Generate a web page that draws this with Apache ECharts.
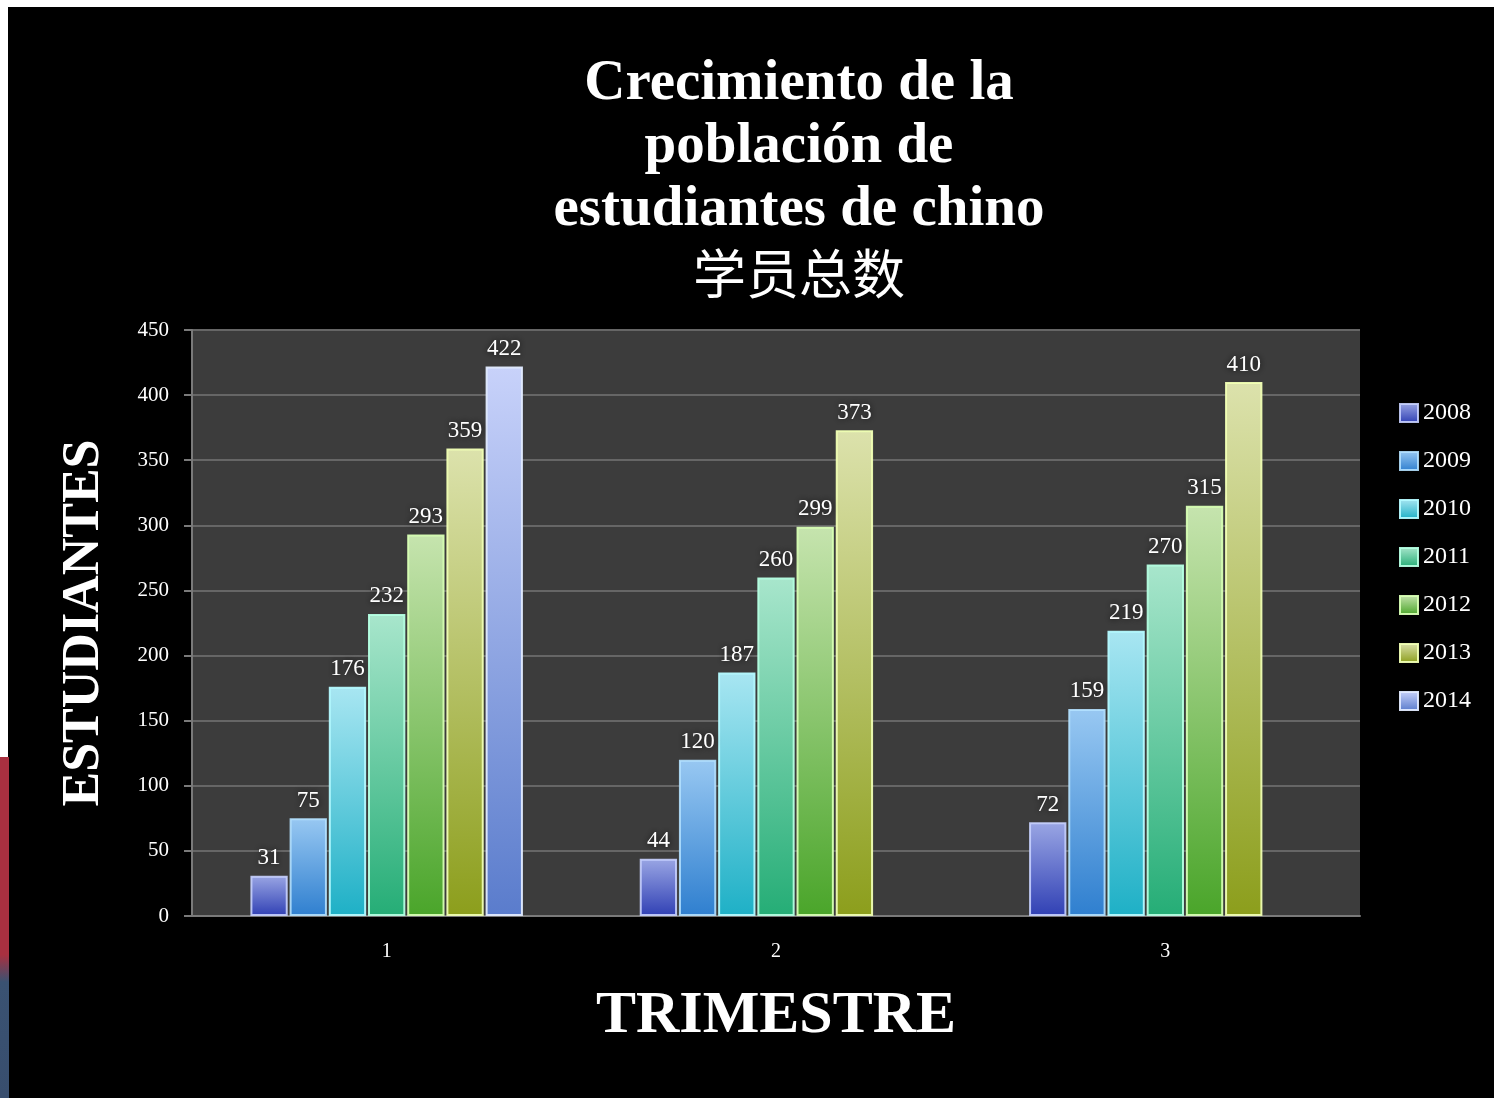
<!DOCTYPE html>
<html>
<head>
<meta charset="utf-8">
<script src="https://cdn.jsdelivr.net/npm/echarts@6/dist/echarts.min.js"></script>
<style>
html,body{margin:0;padding:0;background:#000;}
#c{width:1494px;height:1098px;}
</style>
</head>
<body>
<div id="c"></div>
<script>
const categories = ['1', '2', '3'];
const seriesNames = ['2008', '2009', '2010', '2011', '2012', '2013', '2014'];
const s2008 = [31, 44, 72];
const s2009 = [75, 120, 159];
const s2010 = [176, 187, 219];
const s2011 = [232, 260, 270];
const s2012 = [293, 299, 315];
const s2013 = [359, 373, 410];
const s2014 = [422, null, null];
const yTicks = [0, 50, 100, 150, 200, 250, 300, 350, 400, 450];

const seriesValues = [s2008, s2009, s2010, s2011, s2012, s2013, s2014];
const palette = [
  ['#9aa6e4', '#3040b4'],
  ['#98c8f2', '#2f7fcf'],
  ['#a8e6f2', '#1eb0c6'],
  ['#a8e6cc', '#25ad76'],
  ['#c6e4ae', '#4aa52a'],
  ['#dce2ac', '#8c9e1c'],
  ['#c8d2fa', '#5a7ccc']
];
const edge = [
  'rgba(200,210,255,0.9)', 'rgba(180,225,255,0.9)', 'rgba(180,250,255,0.95)',
  'rgba(180,255,225,0.95)', 'rgba(215,255,180,0.95)', 'rgba(240,255,180,0.95)', 'rgba(225,235,255,0.95)'
];

const chart = echarts.init(document.getElementById('c'));
const serif = '"Liberation Serif", "DejaVu Serif", serif';

const series = seriesNames.map((name, i) => ({
  name: name,
  type: 'bar',
  data: seriesValues[i],
  barGap: '5%',
  barCategoryGap: '30%',
  itemStyle: {
    color: new echarts.graphic.LinearGradient(0, 0, 0, 1, [
      { offset: 0, color: palette[i][0] },
      { offset: 1, color: palette[i][1] }
    ]),
    borderColor: edge[i],
    borderWidth: 2
  },
  label: {
    show: true,
    position: 'top',
    distance: 6,
    color: '#ffffff',
    fontFamily: serif,
    fontSize: 23,
    textShadowColor: 'rgba(0,0,0,0.8)',
    textShadowBlur: 6
  }
}));

chart.setOption({
  backgroundColor: '#000000',
  animation: false,
  title: {
    text: 'Crecimiento de la\npoblación de\nestudiantes de chino\n{c|学员总数}',
    left: 799,
    top: 53,
    textAlign: 'center',
    padding: 0,
    textStyle: {
      color: '#ffffff',
      fontFamily: serif,
      fontWeight: 'bold',
      fontSize: 57,
      lineHeight: 63,
      rich: {
        c: {
          color: '#ffffff',
          fontFamily: '"Noto Sans CJK SC", sans-serif',
          fontWeight: 'normal',
          fontSize: 53,
          lineHeight: 63
        }
      }
    }
  },
  legend: {
    orient: 'vertical',
    left: 1399,
    top: 401,
    padding: 0,
    icon: 'rect',
    itemWidth: 18,
    itemHeight: 18,
    itemGap: 24,
    data: seriesNames,
    textStyle: {
      color: '#ffffff',
      fontFamily: serif,
      fontSize: 24,
      lineHeight: 24
    }
  },
  grid: {
    left: 192,
    right: 134,
    top: 330,
    bottom: 182,
    show: true,
    backgroundColor: '#3c3c3c',
    borderWidth: 0
  },
  xAxis: {
    type: 'category',
    data: categories,
    name: 'TRIMESTRE',
    nameLocation: 'middle',
    nameGap: 70,
    nameTextStyle: {
      color: '#ffffff',
      fontFamily: serif,
      fontWeight: 'bold',
      fontSize: 60
    },
    axisLine: { lineStyle: { color: '#7a7a7a', width: 2 } },
    axisTick: { show: false },
    axisLabel: {
      color: '#ffffff',
      fontFamily: serif,
      fontSize: 20,
      margin: 26
    }
  },
  yAxis: {
    type: 'value',
    min: yTicks[0],
    max: yTicks[yTicks.length - 1],
    interval: yTicks[1] - yTicks[0],
    name: 'ESTUDIANTES',
    nameLocation: 'middle',
    nameRotate: 90,
    nameGap: 81,
    nameTextStyle: {
      color: '#ffffff',
      fontFamily: serif,
      fontWeight: 'bold',
      fontSize: 52
    },
    axisLine: { show: true, lineStyle: { color: '#7a7a7a', width: 2 } },
    axisTick: { show: true, inside: false, length: 8, lineStyle: { color: '#7a7a7a', width: 2 } },
    axisLabel: {
      color: '#ffffff',
      fontFamily: serif,
      fontSize: 21,
      margin: 23
    },
    splitLine: { lineStyle: { color: '#666666', width: 2 } }
  },
  graphic: [
    { type: 'rect', left: 0, top: 0, z: -1, shape: { width: 1494, height: 7 }, style: { fill: '#ffffff' } },
    { type: 'rect', left: 0, top: 0, z: -1, shape: { width: 8, height: 757 }, style: { fill: '#ffffff' } },
    { type: 'rect', left: 0, top: 757, z: -1, shape: { width: 9, height: 341 },
      style: { fill: new echarts.graphic.LinearGradient(0, 0, 0, 1, [
        { offset: 0, color: '#a83040' },
        { offset: 0.58, color: '#a83040' },
        { offset: 0.66, color: '#3a5272' },
        { offset: 1, color: '#384e6e' }
      ]) } }
  ],
  series: series
});
</script>
</body>
</html>
